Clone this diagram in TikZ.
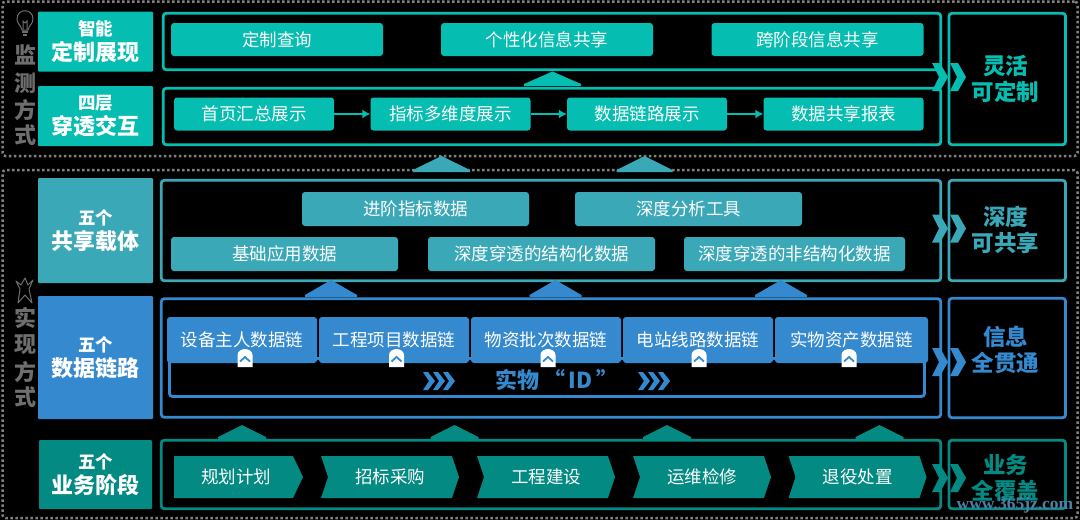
\documentclass[tikz,border=0pt]{standalone}
\usepackage{fontspec}
\usepackage{xcolor}
\setmainfont{Noto Sans CJK SC}
\newfontfamily\markfont{Liberation Serif}
\usepackage{tikz}
\usetikzlibrary{arrows.meta,shapes.symbols}

\definecolor{tealC}{HTML}{05BDB0}
\definecolor{shareC}{HTML}{3BA8B8}
\definecolor{dataC}{HTML}{3589CE}
\definecolor{stageC}{HTML}{038A83}
\definecolor{dotC}{HTML}{808080}
\definecolor{sideC}{HTML}{6E6E6E}

\tikzset{
	dotbox/.style={rectangle,draw=dotC,line width=2.5pt,dash pattern=on 2.5pt off 2.5pt,rounded corners=3pt,inner sep=0pt},
	headbox/.style={rectangle,fill=#1,rounded corners=1pt,inner sep=0pt,text=white,align=center,font=\fontsize{22}{25.5}\selectfont\bfseries},
	framebox/.style={rectangle,draw=#1,line width=2.8pt,rounded corners=3pt,inner sep=0pt},
	itembox/.style={rectangle,fill=#1,rounded corners=3pt,inner sep=0pt,text=white,font=\fontsize{17.5}{20}\selectfont},
	stagebox/.style={signal,signal to=east,fill=stageC,inner sep=0pt,outer sep=0pt,text=white,font=\fontsize{17.5}{20}\selectfont},
	goaltext/.style={text=#1,align=center,font=\fontsize{22.5}{26}\selectfont\bfseries},
	sidetext/.style={text=sideC,font=\fontsize{22}{25}\selectfont\bfseries},
}
\newcommand{\smalltop}[1]{{\fontsize{17.5}{25}\selectfont #1}}
% arrow head standing on a frame: colour, centre x, apex y, base y, half width
\newcommand{\upmark}[5]{\fill[#1] ({#2-#5},#4) -- ({#2-#5},#4-2) -- (#2,#3) -- ({#2+#5},#4-2) -- ({#2+#5},#4) -- cycle;}
% double chevron across the two frames: colour, centre y
\newcommand{\edgemark}[2]{
	\fill[#1] (932,#2-14) -- (940,#2-14) -- (948,#2) -- (940,#2+14) -- (932,#2+14) -- (939,#2) -- cycle;
	\fill[#1] (950,#2-14) -- (958,#2-14) -- (966,#2) -- (958,#2+14) -- (950,#2+14) -- (957,#2) -- cycle;
}
% white badge below a chain box: centre x
\newcommand{\chainmark}[1]{
	\fill[white] ({#1-7.5},367) -- ({#1-7.5},355) .. controls ({#1-7.5},351) and ({#1-3},349) .. (#1,349) .. controls ({#1+3},349) and ({#1+7.5},351) .. ({#1+7.5},355) -- ({#1+7.5},367) -- cycle;
	\draw[dataC,line width=1.8pt] ({#1-5},361.5) -- (#1,357) -- ({#1+5},361.5);
}
% one of the chevrons beside the ID text: left x
\newcommand{\idmark}[1]{\fill[dataC] (#1,372) -- ({#1+5},372) -- ({#1+12},381) -- ({#1+5},390) -- (#1,390) -- ({#1+6},381) -- cycle;}

\begin{document}
\begin{tikzpicture}[x=1pt,y=-1pt]
	\fill[black] (0,0) rectangle (1080,520);
	\useasboundingbox (0,0) rectangle (1080,520);

	\node[dotbox,minimum width=1075pt,minimum height=154.5pt] (monitorArea) at (540,78.75) {};
	\node[dotbox,minimum width=1075pt,minimum height=348pt] (buildArea) at (540,344) {};

	\node[framebox=tealC,minimum width=777.5pt,minimum height=56.5pt] (customFrame) at (552,41.5) {};
	\node[framebox=tealC,minimum width=777.5pt,minimum height=56.5pt] (drillFrame) at (552,116.5) {};
	\node[framebox=shareC,minimum width=779.5pt,minimum height=100.5pt] (shareFrame) at (551,230.5) {};
	\node[framebox=dataC,minimum width=779.5pt,minimum height=118.5pt] (chainFrame) at (551,358) {};
	\node[framebox=stageC,minimum width=779.5pt,minimum height=68.5pt] (stageFrame) at (551,474.5) {};

	\node[framebox=tealC,minimum width=116.5pt,minimum height=131.5pt] (flexFrame) at (1007.25,79) {};
	\node[framebox=shareC,minimum width=116.5pt,minimum height=100.5pt] (deepFrame) at (1007.25,230.5) {};
	\node[framebox=dataC,minimum width=116.5pt,minimum height=119.5pt] (infoFrame) at (1007.25,358) {};
	\node[framebox=stageC,minimum width=116.5pt,minimum height=68.5pt] (coverFrame) at (1007.25,474.5) {};

	\node[headbox=tealC,minimum width=115pt,minimum height=60pt] (customHead) at (95.5,41.5) {\smalltop{智能}\\定制展现};
	\node[headbox=tealC,minimum width=115pt,minimum height=60pt] (drillHead) at (95.5,116) {\smalltop{四层}\\穿透交互};
	\node[headbox=shareC,minimum width=115pt,minimum height=105pt] (shareHead) at (95.5,230.5) {\smalltop{五个}\\共享载体};
	\node[headbox=dataC,minimum width=115pt,minimum height=123pt] (chainHead) at (95.5,357.5) {\smalltop{五个}\\数据链路};
	\node[headbox=stageC,minimum width=113pt,minimum height=69pt] (stageHead) at (95.5,474.5) {\smalltop{五个}\\业务阶段};

	\node[itembox=tealC,minimum width=212pt,minimum height=33pt] (queryBox) at (277,39.5) {定制查询};
	\node[itembox=tealC,minimum width=212pt,minimum height=33pt] (sharedInfo) at (547,39.5) {个性化信息共享};
	\node[itembox=tealC,minimum width=212pt,minimum height=33pt] (crossInfo) at (817.5,39.5) {跨阶段信息共享};

	\node[itembox=tealC,minimum width=160pt,minimum height=33pt] (homeView) at (254,114) {首页汇总展示};
	\node[itembox=tealC,minimum width=160pt,minimum height=33pt] (multiView) at (450.5,114) {指标多维度展示};
	\node[itembox=tealC,minimum width=160pt,minimum height=33pt] (chainView) at (647,114) {数据链路展示};
	\node[itembox=tealC,minimum width=160pt,minimum height=33pt] (reportView) at (843.5,114) {数据共享报表};

	\draw[-{Latex[length=8pt,width=9pt]},tealC,line width=1.5pt] (homeView) -- (multiView);
	\draw[-{Latex[length=8pt,width=9pt]},tealC,line width=1.5pt] (multiView) -- (chainView);
	\draw[-{Latex[length=8pt,width=9pt]},tealC,line width=1.5pt] (chainView) -- (reportView);

	\node[itembox=shareC,minimum width=227pt,minimum height=34pt] (advData) at (415.5,209) {进阶指标数据};
	\node[itembox=shareC,minimum width=227pt,minimum height=34pt] (toolData) at (688.5,209) {深度分析工具};
	\node[itembox=shareC,minimum width=227pt,minimum height=34pt] (baseData) at (284.5,254) {基础应用数据};
	\node[itembox=shareC,minimum width=227pt,minimum height=34pt] (structData) at (541.5,254) {深度穿透的结构化数据};
	\node[itembox=shareC,minimum width=221pt,minimum height=34pt] (unstructData) at (794.5,254) {深度穿透的非结构化数据};

	\node[framebox=dataC,minimum width=755pt,minimum height=38pt] (idFrame) at (547,377.5) {};
	\node[itembox=dataC,minimum width=150pt,minimum height=46pt] (deviceChain) at (242,340) {设备主人数据链};
	\node[itembox=dataC,minimum width=150pt,minimum height=46pt] (projectChain) at (394,340) {工程项目数据链};
	\node[itembox=dataC,minimum width=150pt,minimum height=46pt] (batchChain) at (546,340) {物资批次数据链};
	\node[itembox=dataC,minimum width=150pt,minimum height=46pt] (lineChain) at (698,340) {电站线路数据链};
	\node[itembox=dataC,minimum width=153pt,minimum height=46pt] (assetChain) at (851.5,340) {实物资产数据链};
	\chainmark{245}
	\chainmark{396.5}
	\chainmark{548}
	\chainmark{699}
	\chainmark{849}
	\node[text=dataC,font=\fontsize{22}{25}\selectfont\bfseries] (idText) at (557,380) {实物\,“\,ID\,”};
	\idmark{423}
	\idmark{433}
	\idmark{443}
	\idmark{638}
	\idmark{648}
	\idmark{658}

	\node[stagebox,signal pointer angle=129,minimum width=129pt,minimum height=42pt] (planStage) at (233.5,477) {\hspace*{5pt}规划计划};
	\node[stagebox,signal from=west,signal pointer angle=143,minimum width=138pt,minimum height=42pt] (bidStage) at (390,477) {招标采购};
	\node[stagebox,signal from=west,signal pointer angle=143,minimum width=138pt,minimum height=42pt] (buildStage) at (546,477) {工程建设};
	\node[stagebox,signal from=west,signal pointer angle=143,minimum width=138pt,minimum height=42pt] (runStage) at (702,477) {运维检修};
	\node[stagebox,signal from=west,signal pointer angle=143,minimum width=138pt,minimum height=42pt] (retireStage) at (857.5,477) {退役处置};

	\upmark{tealC}{552.5}{71.5}{86}{28.5}
	\upmark{shareC}{441.5}{156}{172}{28.5}
	\upmark{shareC}{644.5}{156}{172}{28}
	\upmark{dataC}{331}{280}{297}{26}
	\upmark{dataC}{555.5}{280}{297}{26}
	\upmark{dataC}{781}{280}{297}{26}
	\upmark{stageC}{242}{425}{439}{24}
	\upmark{stageC}{454.5}{425}{439}{24}
	\upmark{stageC}{667}{425}{439}{24}
	\upmark{stageC}{879.5}{425}{439}{24}

	\edgemark{tealC}{77}
	\edgemark{shareC}{228.5}
	\edgemark{dataC}{362}
	\edgemark{stageC}{478}

	\node[goaltext=tealC] (flexText) at (1005.5,79) {灵活\\可定制};
	\node[goaltext=shareC] (deepText) at (1005.5,230) {深度\\可共享};
	\node[goaltext=dataC] (infoText) at (1005.5,350) {信息\\全贯通};
	\node[goaltext=stageC] (coverText) at (1005.5,478) {业务\\全覆盖};

	\node[sidetext] (sideA) at (25,55) {监};
	\node[sidetext] (sideB) at (25,83) {测};
	\node[sidetext] (sideC) at (25,110) {方};
	\node[sidetext] (sideD) at (25,135) {式};
	\node[sidetext] (sideE) at (25,318) {实};
	\node[sidetext] (sideF) at (25,345) {现};
	\node[sidetext] (sideG) at (25,372) {方};
	\node[sidetext] (sideH) at (25,397) {式};

	% lamp and figure above the two side titles
	\draw[sideC,line width=1pt] (22,30) .. controls (21,25) and (17,24) .. (17,19) .. controls (17,8) and (33,8) .. (33,19) .. controls (33,24) and (29,25) .. (28,30) -- cycle;
	\draw[sideC,line width=1pt] (23,30) -- (23,21) -- (25,23) -- (27,21) -- (27,30);
	\draw[sideC,line width=1.5pt] (22,32) -- (28,32);
	\draw[sideC,line width=1.5pt] (23,35) -- (27,35);
	\draw[sideC,line width=1pt,line join=round] (16,281) -- (21,285) -- (25,278) -- (28,285) -- (33,280) -- (29,289) -- (32,303) -- (25,295) -- (18,303) -- (20,289) -- cycle;

	\node[text=dataC!55!sideC,font=\markfont\fontsize{17.5}{17.5}\selectfont\bfseries] (siteMark) at (1015,505) {www.365jz.com};
\end{tikzpicture}
\end{document}
